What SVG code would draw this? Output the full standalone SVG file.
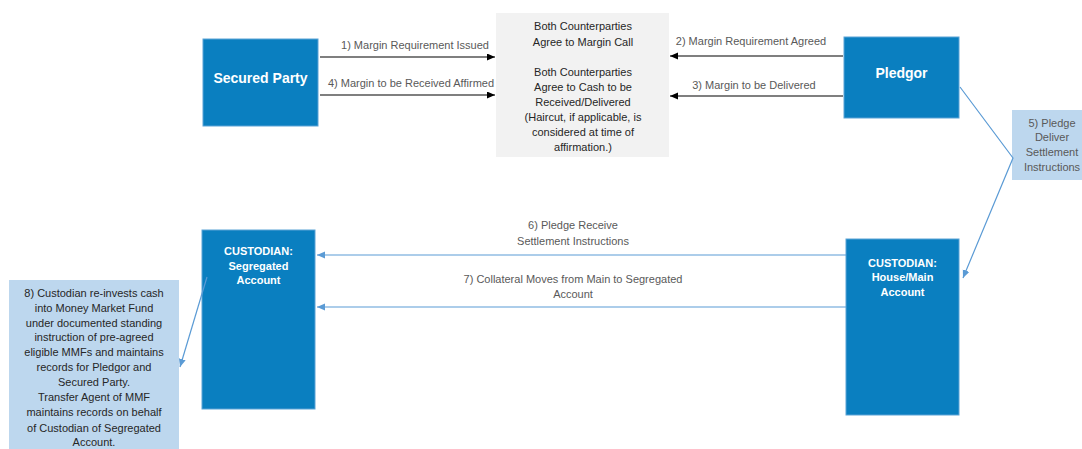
<svg xmlns="http://www.w3.org/2000/svg" width="1082" height="449" viewBox="0 0 1082 449">
<style>
.bb{fill:#0A7FC0;stroke:#5BA3D6;stroke-width:1}
.lb{fill:#BDD7EE}
.gb{fill:#F2F2F2}
.t{font-family:"Liberation Sans",Arial,sans-serif;font-size:11px;text-anchor:middle}
.lab{fill:#595959}
.dark{fill:#262626}
.w{fill:#FFFFFF;font-weight:bold}
.blk{stroke:#000;stroke-width:1.2;fill:none}
.blu{stroke:#5B9BD5;stroke-width:1.2;fill:none}
</style>
<defs>
<marker id="ak" markerUnits="userSpaceOnUse" markerWidth="9" markerHeight="8" refX="8" refY="3.5" orient="auto"><path d="M0,0 L8,3.5 L0,7 z" fill="#000"/></marker>
<marker id="ab" markerUnits="userSpaceOnUse" markerWidth="9" markerHeight="8" refX="8" refY="3.5" orient="auto"><path d="M0,0 L8,3.5 L0,7 z" fill="#5B9BD5"/></marker>
</defs>
<rect width="1082" height="449" fill="#fff"/>
<g id="secured-party">
<rect class="bb" x="203" y="39" width="115" height="87"/>
<text class="t w" x="260.5" y="83" style="font-size:14px">Secured Party</text>
</g>
<g id="agreement">
<rect class="gb" x="496" y="13" width="173" height="144"/>
<text class="t dark" x="583" y="30">Both Counterparties</text>
<text class="t dark" x="583" y="45.5">Agree to Margin Call</text>
<text class="t dark" x="583" y="76">Both Counterparties</text>
<text class="t dark" x="583" y="90.5">Agree to Cash to be</text>
<text class="t dark" x="583" y="105.5">Received/Delivered</text>
<text class="t dark" x="583" y="120.5">(Haircut, if applicable, is</text>
<text class="t dark" x="583" y="135.5">considered at time of</text>
<text class="t dark" x="583" y="150.5">affirmation.)</text>
</g>
<g id="pledgor">
<rect class="bb" x="844" y="37" width="115" height="81"/>
<text class="t w" x="901.5" y="78" style="font-size:14px">Pledgor</text>
</g>
<g id="step5">
<rect class="lb" x="1012" y="110" width="75" height="70"/>
<text class="t lab" x="1052" y="127">5) Pledge</text>
<text class="t lab" x="1052" y="141">Deliver</text>
<text class="t lab" x="1052" y="156">Settlement</text>
<text class="t lab" x="1052" y="171">Instructions</text>
</g>
<g id="custodian-seg">
<rect class="bb" x="202" y="230" width="113" height="179"/>
<text class="t w" x="258.5" y="255">CUSTODIAN:</text>
<text class="t w" x="258.5" y="270">Segregated</text>
<text class="t w" x="258.5" y="284">Account</text>
</g>
<g id="custodian-main">
<rect class="bb" x="846" y="239" width="113" height="176"/>
<text class="t w" x="902.5" y="267">CUSTODIAN:</text>
<text class="t w" x="902.5" y="281">House/Main</text>
<text class="t w" x="902.5" y="296">Account</text>
</g>
<g id="step8">
<rect class="lb" x="9" y="280" width="170" height="169"/>
<g class="t dark">
<text x="94" y="296.5">8) Custodian re-invests cash</text>
<text x="94" y="311.5">into Money Market Fund</text>
<text x="94" y="326.5">under documented standing</text>
<text x="94" y="341">instruction of pre-agreed</text>
<text x="94" y="356">eligible MMFs and maintains</text>
<text x="94" y="371">records for Pledgor and</text>
<text x="94" y="386">Secured Party.</text>
<text x="94" y="401">Transfer Agent of MMF</text>
<text x="94" y="416">maintains records on behalf</text>
<text x="94" y="431.5">of Custodian of Segregated</text>
<text x="94" y="446">Account.</text>
</g>
</g>
<g id="connectors">
<line class="blk" x1="320" y1="57" x2="495" y2="57" marker-end="url(#ak)"/>
<line class="blk" x1="320" y1="95" x2="495" y2="95" marker-end="url(#ak)"/>
<line class="blk" x1="843" y1="56" x2="670" y2="56" marker-end="url(#ak)"/>
<line class="blk" x1="843" y1="96" x2="670" y2="96" marker-end="url(#ak)"/>
<polyline class="blu" points="960,87 1013,158 963,278" marker-end="url(#ab)"/>
<line class="blu" x1="846" y1="255" x2="317" y2="255" marker-end="url(#ab)"/>
<line class="blu" x1="846" y1="307" x2="317" y2="307" marker-end="url(#ab)"/>
<line class="blu" x1="207" y1="277" x2="180" y2="367" marker-end="url(#ab)"/>
<text class="t lab" x="415" y="49">1) Margin Requirement Issued</text>
<text class="t lab" x="411" y="87">4) Margin to be Received Affirmed</text>
<text class="t lab" x="751" y="45">2) Margin Requirement Agreed</text>
<text class="t lab" x="754" y="89">3) Margin to be Delivered</text>
<text class="t lab" x="573" y="229">6) Pledge Receive</text>
<text class="t lab" x="573" y="244.5">Settlement Instructions</text>
<text class="t lab" x="573" y="283">7) Collateral Moves from Main to Segregated</text>
<text class="t lab" x="573" y="298">Account</text>
</g>
</svg>
